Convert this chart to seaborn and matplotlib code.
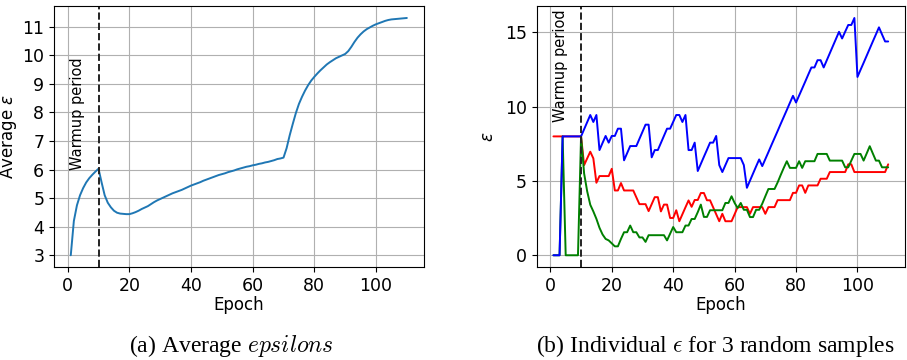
import numpy as np
import pandas as pd
import seaborn as sns
import matplotlib.pyplot as plt

epochs = list(range(1, 111))

avg_eps = [3.00, 4.20, 4.75, 5.10, 5.35, 5.55, 5.70, 5.82, 5.93, 6.03,
           5.55, 5.10, 4.84, 4.68, 4.56, 4.49, 4.46, 4.45, 4.44, 4.44,
           4.47, 4.51, 4.56, 4.62, 4.67, 4.72, 4.79, 4.86, 4.92, 4.97,
           5.02, 5.07, 5.12, 5.17, 5.21, 5.25, 5.29, 5.34, 5.39, 5.44,
           5.48, 5.52, 5.56, 5.61, 5.65, 5.69, 5.73, 5.77, 5.81, 5.84,
           5.87, 5.91, 5.94, 5.97, 6.01, 6.04, 6.07, 6.10, 6.12, 6.15,
           6.17, 6.20, 6.22, 6.25, 6.27, 6.30, 6.33, 6.37, 6.39, 6.42,
           6.75, 7.20, 7.60, 7.98, 8.30, 8.55, 8.77, 8.96, 9.12, 9.25,
           9.37, 9.48, 9.58, 9.68, 9.76, 9.83, 9.90, 9.95, 10.00, 10.05,
           10.15, 10.30, 10.47, 10.62, 10.74, 10.84, 10.92, 10.98, 11.04, 11.09,
           11.13, 11.17, 11.21, 11.24, 11.26, 11.27, 11.28, 11.29, 11.30, 11.31]

eps_blue = [0, 0, 0, 8, 8, 8, 8, 8, 8, 8,
            8.48, 8.96, 9.44, 8.97, 9.44, 7.08, 7.56, 8.03, 7.58, 8.03,
            8.03, 8.52, 8.52, 6.39, 6.87, 7.35, 7.35, 7.35, 7.83, 8.31,
            8.79, 8.79, 6.59, 7.08, 7.08, 7.56, 8.04, 8.52, 8.52, 8.98,
            9.44, 9.44, 8.97, 9.44, 7.08, 7.08, 7.58, 5.67, 6.15, 6.63,
            7.10, 7.58, 7.58, 8.03, 6.07, 5.60, 6.07, 6.54, 6.54, 6.54,
            6.54, 6.54, 6.07, 4.54, 5.02, 5.50, 5.98, 6.45, 6.00, 6.47,
            6.94, 7.42, 7.89, 8.36, 8.84, 9.31, 9.78, 10.26, 10.73, 10.28,
            10.75, 11.22, 11.69, 12.17, 12.64, 12.64, 13.13, 13.13, 12.64, 13.12,
            13.60, 14.08, 14.56, 15.04, 14.59, 15.05, 15.50, 15.50, 15.97, 12.00,
            12.48, 12.95, 13.43, 13.91, 14.39, 14.86, 15.34, 14.86, 14.39, 14.39]

eps_red = [8, 8, 8, 8, 8, 8, 8, 8, 8, 8,
           6.07, 6.52, 6.97, 6.52, 4.88, 5.33, 5.33, 5.33, 5.33, 5.82,
           4.36, 4.36, 4.86, 4.36, 4.36, 4.36, 4.36, 3.90, 3.44, 3.44,
           3.44, 2.97, 3.44, 3.91, 3.91, 2.95, 3.41, 3.41, 2.51, 2.51,
           3.03, 2.29, 2.76, 3.23, 3.69, 3.26, 3.72, 3.72, 4.19, 4.19,
           3.70, 3.70, 3.23, 2.76, 2.29, 2.79, 2.29, 2.29, 2.29, 2.76,
           3.24, 3.24, 3.24, 3.24, 2.79, 3.24, 3.24, 3.24, 3.24, 2.79,
           3.24, 3.24, 3.24, 3.71, 3.71, 3.71, 3.71, 3.71, 4.20, 4.20,
           4.70, 4.70, 4.20, 4.70, 4.70, 4.70, 4.70, 5.15, 5.15, 5.15,
           5.60, 5.60, 5.60, 5.60, 5.60, 5.60, 6.12, 6.12, 5.60, 5.60,
           5.60, 5.60, 5.60, 5.60, 5.60, 5.60, 5.60, 5.60, 5.60, 6.12]

eps_green = [0, 0, 0, 8, 0, 0, 0, 0, 0, 8,
             5.50, 4.30, 3.40, 2.95, 2.45, 1.85, 1.40, 1.10, 1.00, 0.80,
             0.60, 0.60, 1.10, 1.55, 1.55, 2.00, 1.55, 1.55, 1.20, 1.20,
             0.90, 1.35, 1.35, 1.35, 1.35, 1.35, 1.35, 1.00, 1.45, 1.90,
             1.55, 1.55, 1.55, 2.00, 2.00, 2.44, 2.44, 2.90, 3.41, 2.58,
             2.58, 3.03, 3.03, 3.03, 3.03, 3.03, 3.52, 3.52, 3.97, 3.52,
             3.18, 3.52, 3.06, 3.06, 2.57, 2.57, 3.06, 3.06, 3.47, 3.97,
             4.46, 4.46, 4.46, 4.90, 5.40, 5.88, 6.33, 5.88, 5.88, 5.88,
             6.33, 5.88, 6.33, 6.33, 6.33, 6.33, 6.82, 6.82, 6.82, 6.82,
             6.37, 6.37, 6.37, 6.37, 6.37, 5.92, 5.92, 6.37, 6.82, 6.82,
             6.82, 6.37, 6.85, 7.34, 6.85, 6.37, 6.37, 5.92, 5.92, 5.92]

warmup_end = 10

sns.set_style("ticks", rc={"axes.edgecolor": "black", "xtick.color": "black",
                           "ytick.color": "black", "text.color": "black",
                           "axes.labelcolor": "black"})
plt.rcParams['font.family'] = ['DejaVu Sans']

avg_df = pd.DataFrame({"Epoch": epochs, "eps": avg_eps})
samples_df = pd.concat([
    pd.DataFrame({"Epoch": epochs, "eps": eps_red, "sample": "red"}),
    pd.DataFrame({"Epoch": epochs, "eps": eps_green, "sample": "green"}),
    pd.DataFrame({"Epoch": epochs, "eps": eps_blue, "sample": "blue"}),
])

fig = plt.figure(figsize=(9.07, 3.6), dpi=100)
ax1 = fig.add_axes([0.0595, 0.258, 0.4076, 0.725])
ax2 = fig.add_axes([0.5917, 0.258, 0.406, 0.725])

# (a) average epsilon
sns.lineplot(data=avg_df, x="Epoch", y="eps", color="#1f77b4", lw=1.4, ax=ax1)
ax1.axvline(warmup_end, color="#222222", ls="--", lw=1.4)
ax1.text(3.2, 6.0, "Warmup period", rotation=90, ha="center", va="bottom", fontsize=10.5)
ax1.set_yticks(range(3, 12))
ax1.set_ylabel(r"Average $\epsilon$", fontsize=12, labelpad=2)

# (b) individual samples
sns.lineplot(data=samples_df, x="Epoch", y="eps", hue="sample",
             hue_order=["red", "green", "blue"],
             palette={"red": "red", "green": "green", "blue": "blue"},
             lw=1.4, legend=False, ax=ax2)
ax2.axvline(warmup_end, color="#222222", ls="--", lw=1.4)
ax2.text(3.2, 9.0, "Warmup period", rotation=90, ha="center", va="bottom", fontsize=10.5)
ax2.set_yticks([0, 5, 10, 15])
ax2.set_ylabel(r"$\epsilon$", fontsize=12, labelpad=6)

for ax in (ax1, ax2):
    ax.margins(x=0.05, y=0.05)
    ax.set_xticks([0, 20, 40, 60, 80, 100])
    ax.grid(True, color="#b0b0b0", lw=0.8)
    ax.set_axisbelow(True)
    ax.set_xlabel("Epoch", fontsize=12, labelpad=1)
    ax.tick_params(labelsize=12.5)

fig.text(0.255, 0.038, r"(a) Average $epsilons$", ha="center", va="center", fontsize=17,
         family="Liberation Serif", math_fontfamily="cm")
fig.text(0.789, 0.038, r"(b) Individual $\epsilon$ for 3 random samples", ha="center",
         va="center", fontsize=17, family="Liberation Serif", math_fontfamily="cm")

fig.savefig("out.png", dpi=100)
